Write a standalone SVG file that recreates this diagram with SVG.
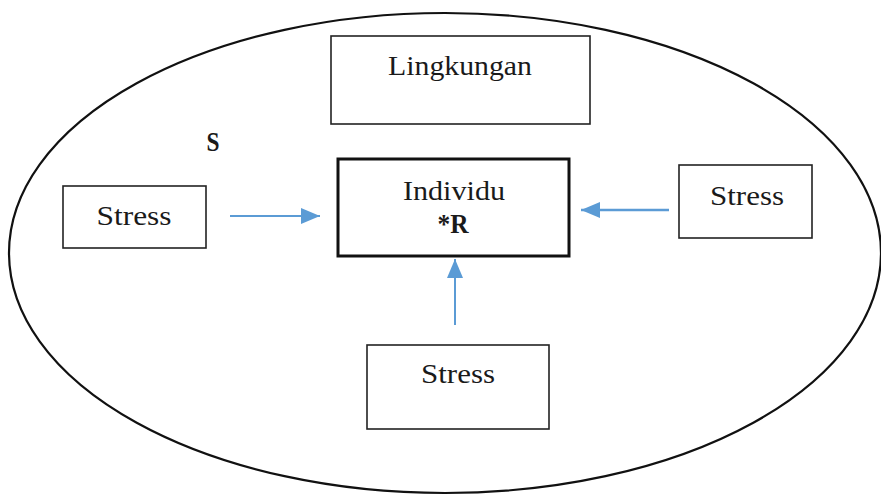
<svg xmlns="http://www.w3.org/2000/svg" width="881" height="497" viewBox="0 0 881 497">
<style>
.box{fill:#fff;stroke:#222;stroke-width:1.6}
.thick{fill:#fff;stroke:#111;stroke-width:3}
.t{font-family:"Liberation Serif","DejaVu Serif",serif;font-size:28px;fill:#1a1a1a;text-anchor:middle}
.b{font-weight:bold}
.arr{stroke:#5B9BD5;stroke-width:2;fill:none}
</style>
<defs>
<marker id="ah" viewBox="0 0 10 10" refX="10" refY="5" markerWidth="19" markerHeight="16" markerUnits="userSpaceOnUse" orient="auto" preserveAspectRatio="none">
<path d="M0,0 L10,5 L0,10 z" fill="#5B9BD5"/>
</marker>
</defs>
<rect width="881" height="497" fill="#fff"/>
<g id="lingkungan-area">
<ellipse cx="445" cy="253" rx="436" ry="240" fill="none" stroke="#111" stroke-width="2.2"/>
<text class="t b" x="213" y="151" textLength="13" lengthAdjust="spacingAndGlyphs">S</text>
</g>
<g id="lingkungan">
<rect class="box" x="331" y="36" width="259" height="88"/>
<text class="t" x="460" y="75" textLength="144" lengthAdjust="spacingAndGlyphs">Lingkungan</text>
</g>
<g id="individu">
<rect class="thick" x="338" y="159" width="231" height="97"/>
<text class="t" x="454" y="200" textLength="102" lengthAdjust="spacingAndGlyphs">Individu</text>
<text class="t b" x="453" y="233" textLength="31" lengthAdjust="spacingAndGlyphs">*R</text>
</g>
<g id="stress-left">
<rect class="box" x="63" y="186" width="143" height="62"/>
<text class="t" x="134" y="225" textLength="75" lengthAdjust="spacingAndGlyphs">Stress</text>
</g>
<g id="stress-right">
<rect class="box" x="679" y="165" width="133" height="73"/>
<text class="t" x="747" y="205" textLength="74" lengthAdjust="spacingAndGlyphs">Stress</text>
</g>
<g id="stress-bottom">
<rect class="box" x="367" y="345" width="182" height="84"/>
<text class="t" x="458" y="383" textLength="74" lengthAdjust="spacingAndGlyphs">Stress</text>
</g>
<g id="connectors">
<line class="arr" x1="230" y1="216" x2="320" y2="216" marker-end="url(#ah)"/>
<line class="arr" x1="669" y1="210" x2="581" y2="210" marker-end="url(#ah)" style="stroke-width:2.4"/>
<line class="arr" x1="455" y1="325" x2="455" y2="259" marker-end="url(#ah)"/>
</g>
</svg>
